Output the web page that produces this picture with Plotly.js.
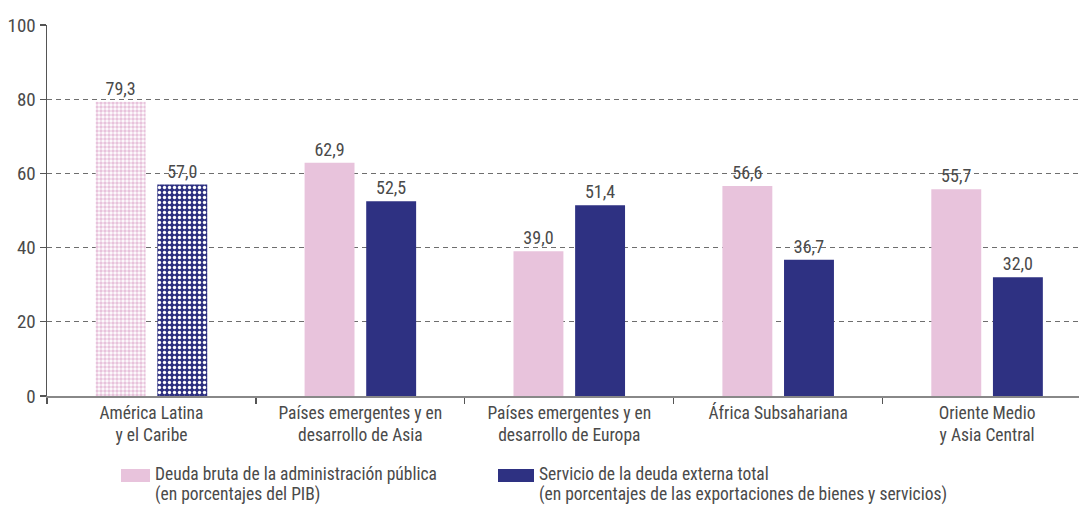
<!DOCTYPE html>
<html>
<head>
<meta charset="utf-8">
<script src="https://cdn.plot.ly/plotly-3.0.1.min.js"></script>
<style>html,body{margin:0;padding:0;background:#fff;}#chart{width:1079px;height:505px;}</style>
</head>
<body>
<div id="chart"></div>
<script>
const categories = ["América Latina y el Caribe", "Países emergentes y en desarrollo de Asia", "Países emergentes y en desarrollo de Europa", "África Subsahariana", "Oriente Medio y Asia Central"];
const tickLabels = ["América Latina<br>y el Caribe", "Países emergentes y en<br>desarrollo de Asia", "Países emergentes y en<br>desarrollo de Europa", "África Subsahariana", "Oriente Medio<br>y Asia Central"];
const deudaBruta = [79.3, 62.9, 39.0, 56.6, 55.7];
const servicioDeuda = [57.0, 52.5, 51.4, 36.7, 32.0];
const seriesLine1 = ["Deuda bruta de la administración pública", "Servicio de la deuda externa total"];
const seriesLine2 = ["(en porcentajes del PIB)", "(en porcentajes de las exportaciones de bienes y servicios)"];
const yTicks = [0, 20, 40, 60, 80, 100];

const PINK = "#E8C3DC", NAVY = "#2E3182", TXT = "#4a4a4a";
const FONT = "'Roboto Condensed', 'Liberation Sans Narrow', 'DejaVu Sans Condensed', Roboto, sans-serif";

// plot area in pixels (for legend placement)
const L = 47, R = 1079, T = 25, B = 396;
const px = x => (x - L) / (R - L);
const py = y => (B - y) / (B - T);

const traces = [
  {
    type: "bar", x: categories, y: deudaBruta, name: seriesLine1[0],
    marker: {
      color: PINK,
      pattern: { shape: [".", "", "", "", ""], fgcolor: [PINK, PINK, PINK, PINK, PINK], bgcolor: ["#ffffff", PINK, PINK, PINK, PINK], size: 4, solidity: 0.6, fillmode: "replace" },
      line: { width: 0 }
    },
    texttemplate: "%{y:.1f}", textposition: "outside", cliponaxis: false,
    textfont: { family: FONT, size: 18, color: TXT },
    hoverinfo: "skip", showlegend: false
  },
  {
    type: "bar", x: categories, y: servicioDeuda, name: seriesLine1[1],
    marker: {
      color: NAVY,
      pattern: { shape: [".", "", "", "", ""], fgcolor: ["#ffffff", NAVY, NAVY, NAVY, NAVY], bgcolor: [NAVY, NAVY, NAVY, NAVY, NAVY], size: 5, solidity: 0.35, fillmode: "replace" },
      line: { width: 0 }
    },
    texttemplate: "%{y:.1f}", textposition: "outside", cliponaxis: false,
    textfont: { family: FONT, size: 18, color: TXT },
    hoverinfo: "skip", showlegend: false
  }
];

const legendText = (x, y, t) => ({
  xref: "paper", yref: "paper", x: px(x), y: py(y), xanchor: "left", yanchor: "middle",
  align: "left", valign: "middle", borderpad: 0, showarrow: false, text: t,
  font: { family: FONT, size: 17.5, color: TXT }
});

const layout = {
  width: 1079, height: 505,
  margin: { l: L, r: 1079 - R, t: T, b: 505 - B, pad: 0 },
  paper_bgcolor: "#fff", plot_bgcolor: "#fff",
  separators: ",.",
  barmode: "group", bargap: 0.41, bargroupgap: 0.19,
  font: { family: FONT, size: 18, color: TXT },
  showlegend: false,
  xaxis: {
    type: "category", range: [-0.5, 4.44],
    tickvals: categories, ticktext: tickLabels,
    tickson: "boundaries", ticks: "outside", ticklen: 6, tickcolor: "#555", tickwidth: 1.2,
    showline: true, linecolor: "#888", linewidth: 1.5,
    showgrid: false, zeroline: false,
    tickfont: { family: FONT, size: 17.5, color: TXT }
  },
  yaxis: {
    range: [0, 100], tickvals: yTicks,
    ticks: "outside", ticklen: 6, tickcolor: "#555", tickwidth: 1.2,
    showline: true, linecolor: "#555", linewidth: 1.5,
    showgrid: true, gridcolor: "#6e6e6e", gridwidth: 1.4, griddash: "5px,4px",
    zeroline: false,
    tickfont: { family: FONT, size: 19, color: TXT }
  },
  shapes: [
    { type: "rect", xref: "paper", yref: "paper", x0: px(121), x1: px(150), y0: py(469), y1: py(482), fillcolor: PINK, line: { width: 0 } },
    { type: "rect", xref: "paper", yref: "paper", x0: px(498), x1: px(534), y0: py(469), y1: py(482), fillcolor: NAVY, line: { width: 0 } }
  ],
  annotations: [
    legendText(154, 473.5, seriesLine1[0]),
    legendText(154, 494, seriesLine2[0]),
    legendText(538, 473.5, seriesLine1[1]),
    legendText(538, 494, seriesLine2[1])
  ]
};

Plotly.newPlot("chart", traces, layout, { displayModeBar: false, staticPlot: true });
</script>
</body>
</html>
